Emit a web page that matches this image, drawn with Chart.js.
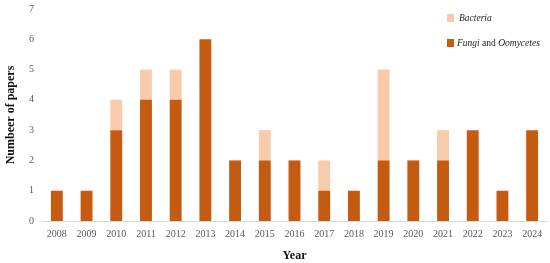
<!DOCTYPE html>
<html>
<head>
<meta charset="utf-8">
<script src="https://cdn.jsdelivr.net/npm/chart.js@4.4.1/dist/chart.umd.min.js"></script>
<style>
  body { margin: 0; background: #fff; }
  #wrap { position: relative; width: 550px; height: 263px; overflow: hidden; }
  #chart { position: absolute; left: 0; top: -5px; }
  #legend { position: absolute; left: 447px; top: 11px; font-family: "Liberation Serif", serif; font-size: 9.5px; color: #222; }
  #legend div { display: flex; align-items: center; height: 14px; margin-bottom: 11px; }
  #legend span.box { display: inline-block; width: 7px; height: 8px; margin-right: 3px; }
</style>
</head>
<body>
<div id="wrap">
  <canvas id="chart" width="550" height="268"></canvas>
  <div id="legend">
    <div><span class="box" style="background:#F8CBAD; margin-right:5px"></span><i>Bacteria</i></div>
    <div><span class="box" style="background:#C55A11"></span><span><i>Fungi</i> and <i>Oomycetes</i></span></div>
  </div>
</div>
<script>
// Papers per year, by pathogen group
const years = ['2008', '2009', '2010', '2011', '2012', '2013', '2014', '2015', '2016',
               '2017', '2018', '2019', '2020', '2021', '2022', '2023', '2024'];
const fungiOomycetes = [1, 1, 3, 4, 4, 6, 2, 2, 2, 1, 1, 2, 2, 2, 3, 1, 3];
const bacteria = [0, 0, 1, 1, 1, 0, 0, 1, 0, 1, 0, 3, 0, 1, 0, 0, 0];
const yTicks = [0, 1, 2, 3, 4, 5, 6, 7];

const ctx = document.getElementById('chart').getContext('2d');

new Chart(ctx, {
    type: 'bar',
    data: {
        labels: years,
        datasets: [
            {
                label: 'Fungi and Oomycetes',
                data: fungiOomycetes,
                backgroundColor: '#C55A11',
                barPercentage: 0.4,
                categoryPercentage: 1.0,
            },
            {
                label: 'Bacteria',
                data: bacteria,
                backgroundColor: '#F8CBAD',
                barPercentage: 0.4,
                categoryPercentage: 1.0,
            }
        ]
    },
    options: {
        responsive: false,
        animation: false,
        layout: { padding: { left: 0, right: 3, top: 0, bottom: 0 } },
        plugins: {
            legend: { display: false },
            tooltip: { enabled: false }
        },
        scales: {
            x: {
                stacked: true,
                afterFit: s => { s.height = 42; },
                grid: { display: false, drawTicks: false },
                border: { color: '#D9D9D9' },
                ticks: {
                    color: '#595959',
                    font: { family: 'Liberation Serif', size: 10 },
                    maxRotation: 0,
                    padding: 7
                },
                title: {
                    display: true,
                    text: 'Year',
                    color: '#111',
                    font: { family: 'Liberation Serif', size: 12, weight: 'bold' },
                    padding: { top: 0, bottom: 0 }
                }
            },
            y: {
                stacked: true,
                min: 0,
                max: 7,
                afterFit: s => { s.width = 42; },
                grid: { display: false, drawTicks: false },
                border: { display: false },
                afterBuildTicks: axis => { axis.ticks = yTicks.map(v => ({ value: v })); },
                ticks: {
                    color: '#595959',
                    font: { family: 'Liberation Serif', size: 10 },
                    padding: 8
                },
                title: {
                    display: true,
                    text: 'Numbeer of papers',
                    color: '#111',
                    font: { family: 'Liberation Serif', size: 12, weight: 'bold' },
                    padding: { top: 4, bottom: 0 }
                }
            }
        }
    }
});
</script>
</body>
</html>
